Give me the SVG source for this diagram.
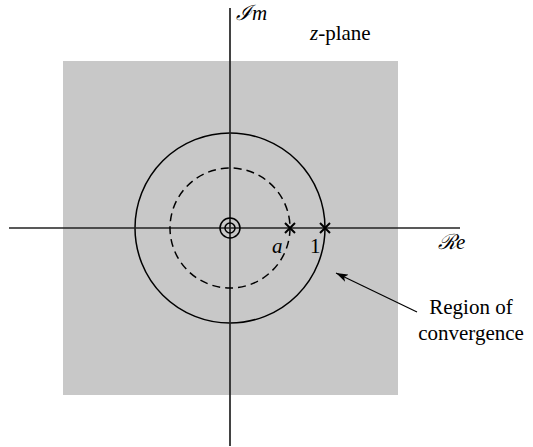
<svg xmlns="http://www.w3.org/2000/svg" width="533" height="447" viewBox="0 0 533 447">
<style>
.ax{stroke:#222;stroke-width:1.7;fill:none}
.c{stroke:#000;stroke-width:1.5;fill:none}
.t{font-family:"Liberation Serif","DejaVu Serif",serif;font-size:21px;fill:#000}
.i{font-style:italic}
.x{stroke:#000;stroke-width:2}
</style>
<defs>
<marker id="ah" viewBox="0 0 12 8" refX="12" refY="4" markerWidth="12" markerHeight="8" markerUnits="userSpaceOnUse" orient="auto">
<path d="M0,0 L12,4 L0,8 L3,4 Z" fill="#000"/>
</marker>
</defs>
<g id="region">
<rect x="63" y="61" width="335" height="334" fill="#c8c8c8"/>
<circle cx="230" cy="228" r="95" fill="#fff" class="c"/>
</g>
<g id="connectors">
<line class="ax" x1="9" y1="228" x2="460" y2="228"/>
<line class="ax" x1="230" y1="8" x2="230" y2="446"/>
<circle cx="230" cy="228" r="60" class="c" stroke-dasharray="8,5"/>
<line x1="417" y1="312" x2="336" y2="273" stroke="#000" stroke-width="1.2" marker-end="url(#ah)"/>
</g>
<g id="zero">
<circle cx="230" cy="228" r="10" fill="#fff" class="c"/>
<circle cx="230" cy="228" r="5" fill="none" class="c"/>
</g>
<g id="pole-a">
<path class="x" d="M285,223 L295,233 M295,223 L285,233"/>
<text class="t i" x="272" y="253">a</text>
</g>
<g id="pole-1">
<path class="x" d="M320,223 L330,233 M330,223 L320,233"/>
<text class="t" x="310" y="253">1</text>
</g>
<g id="labels">
<text class="t i" x="236" y="20">ℐm</text>
<text class="t" x="310" y="40"><tspan class="i">z</tspan>-plane</text>
<text class="t i" x="438" y="249">ℛe</text>
<text class="t" x="471" y="314" text-anchor="middle">Region of</text>
<text class="t" x="471" y="340" text-anchor="middle">convergence</text>
</g>
</svg>
